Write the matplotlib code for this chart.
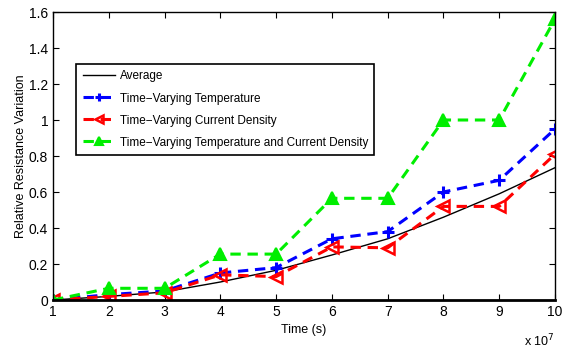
import numpy as np
import matplotlib
matplotlib.use('Agg')
import matplotlib.pyplot as plt

plt.rcParams['font.family'] = ['Liberation Sans', 'DejaVu Sans']

# tempo em unidades de 1e7 s
tempo = [1, 2, 3, 4, 5, 6, 7, 8, 9, 10]
media = [0.0, 0.02, 0.045, 0.10, 0.165, 0.25, 0.34, 0.46, 0.59, 0.735]
temp_var = [0.0, 0.03, 0.05, 0.15, 0.18, 0.34, 0.38, 0.60, 0.665, 0.95]
corrente_var = [0.0, 0.02, 0.04, 0.14, 0.13, 0.295, 0.29, 0.52, 0.52, 0.81]
ambos_var = [0.0, 0.065, 0.065, 0.255, 0.255, 0.565, 0.565, 1.0, 1.0, 1.56]

fig = plt.figure(figsize=(5.65, 3.5), dpi=100)
ax = fig.add_axes([53/565, 50/350, 502/565, 288/350])

tracos = (3.4, 2.2)
ax.plot(tempo, media, '-', color='black', lw=1.0, label='Average')
ax.plot(tempo, temp_var, '--', color='blue', lw=2.2, marker='+', ms=8, mew=2.2,
        dashes=tracos, label='Time\u2212Varying Temperature')
ax.plot(tempo, corrente_var, '--', color='red', lw=2.2, marker='<', ms=8, mew=1.8,
        mfc='none', dashes=tracos, label='Time\u2212Varying Current Density')
ax.plot(tempo, ambos_var, '--', color='#00ee00', lw=2.2, marker='^', ms=8, mew=1.5,
        mfc='#00ee00', dashes=tracos, label='Time\u2212Varying Temperature and Current Density')

ax.set_xlim(1, 10)
ax.set_ylim(0, 1.6)
ax.set_xticks(tempo)
ax.set_yticks(np.arange(0, 1.61, 0.2))
ax.set_yticklabels(['0', '0.2', '0.4', '0.6', '0.8', '1', '1.2', '1.4', '1.6'])
ax.tick_params(direction='in', top=True, right=True, labelsize=10, length=4)
for s in ax.spines.values():
    s.set_linewidth(1.0)
ax.spines['bottom'].set_linewidth(2.0)

ax.set_xlabel('Time (s)', fontsize=9, labelpad=4)
ax.set_ylabel('Relative Resistance Variation', fontsize=9, labelpad=1)
ax.text(1.0, -0.115, r'x 10$^7$', transform=ax.transAxes, ha='right', va='top', fontsize=9)

leg = ax.legend(loc='upper left', bbox_to_anchor=(0.035, 0.84), fontsize=8.5,
                frameon=True, fancybox=False, edgecolor='black', framealpha=1,
                handlelength=2.7, borderpad=0.55, labelspacing=0.85, handletextpad=0.4,
                markerscale=0.8)
leg.get_frame().set_linewidth(1.2)

fig.savefig('out.png', dpi=100)
